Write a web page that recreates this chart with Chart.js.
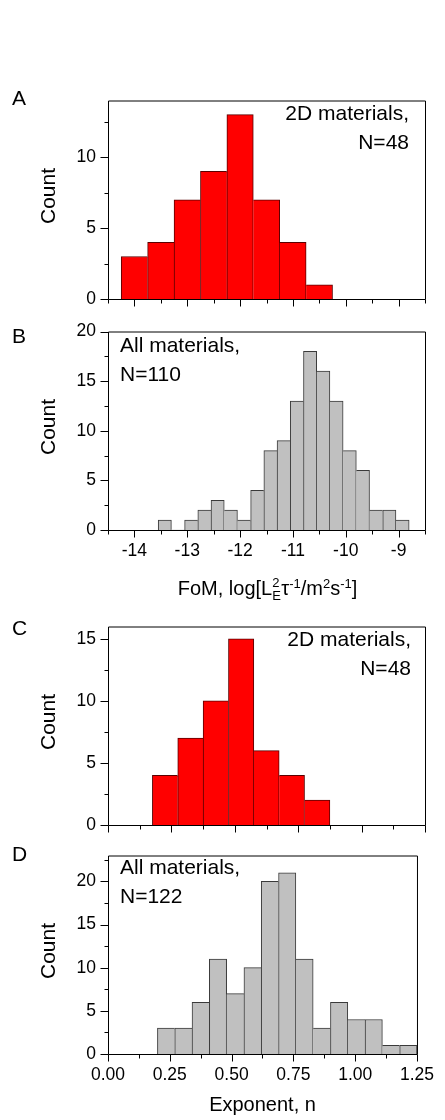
<!DOCTYPE html>
<html>
<head>
<meta charset="utf-8">
<script src="https://cdn.jsdelivr.net/npm/chart.js@4.4.1/dist/chart.umd.min.js"></script>
<style>
  body { margin: 0; background: #fff; }
  #page { position: relative; width: 445px; height: 1120px; overflow: hidden;
          font-family: Arial, "Liberation Sans", Helvetica, sans-serif; color: #000; }
  canvas { position: absolute; left: 0; }
  .t { position: absolute; line-height: 1; white-space: nowrap; font-size: 21px; }
  .ann { position: absolute; line-height: 29px; white-space: nowrap; font-size: 21px; }
  .cnt { position: absolute; left: 47px; line-height: 1; font-size: 21px; white-space: nowrap;
         transform: translate(-50%, -50%) rotate(-90deg); }
  .ttl { position: absolute; line-height: 1; font-size: 20px; white-space: nowrap; transform: translateX(-50%); }
  .up { position: relative; top: -7px; font-size: 13px; }
  .ls { position: relative; display: inline-block; width: 9px; height: 0; }
  .ls .hi { position: absolute; left: 0; bottom: 6px; font-size: 13px; }
  .ls .lo { position: absolute; left: 0; top: -6px; font-size: 13px; }
</style>
</head>
<body>
<div id="page">
  <canvas id="cA" width="445" height="245" style="top:78px"></canvas>
  <canvas id="cB" width="445" height="261" style="top:309px"></canvas>
  <canvas id="cC" width="445" height="245" style="top:604px"></canvas>
  <canvas id="cD" width="445" height="261" style="top:833px"></canvas>

  <div class="t" style="left:12px; top:87.2px">A</div>
  <div class="t" style="left:12px; top:325.2px">B</div>
  <div class="t" style="left:12px; top:617.2px">C</div>
  <div class="t" style="left:12px; top:843.2px">D</div>

  <div class="ann" style="right:36px; top:98.2px; text-align:right">2D materials,<br>N=48</div>
  <div class="ann" style="left:120px; top:330.2px">All materials,<br>N=110</div>
  <div class="ann" style="right:34px; top:624.2px; text-align:right">2D materials,<br>N=48</div>
  <div class="ann" style="left:120px; top:852.2px">All materials,<br>N=122</div>

  <div class="cnt" style="top:195.5px">Count</div>
  <div class="cnt" style="top:426.5px">Count</div>
  <div class="cnt" style="top:721.5px">Count</div>
  <div class="cnt" style="top:950.5px">Count</div>

  <div class="ttl" style="left:267.5px; top:578.1px">FoM, log[L<span class="ls"><span class="hi">2</span><span class="lo">E</span></span>τ<span class="up">-1</span>/m<span class="up">2</span>s<span class="up">-1</span>]</div>
  <div class="ttl" style="left:262.5px; top:1094.1px">Exponent, n</div>
</div>

<script>
// x axes
const fomMajor = [-14, -13, -12, -11, -10, -9];
const fomMinor = [-14.5, -13.5, -12.5, -11.5, -10.5, -9.5, -8.5];
const expMajor = [0, 0.25, 0.5, 0.75, 1.0, 1.25];
const expMinor = [0.125, 0.375, 0.625, 0.875, 1.125];

// A: FoM, 2D materials (bin centres, width 0.5)
const binsA   = [-14.0, -13.5, -13.0, -12.5, -12.0, -11.5, -11.0, -10.5];
const countsA = [3, 4, 7, 9, 13, 7, 4, 1];

// B: FoM, all materials (bin centres, width 0.25)
const binsB   = [-13.425, -13.175, -12.925, -12.675, -12.425, -12.175, -11.925, -11.675, -11.425, -11.175,
                 -10.925, -10.675, -10.425, -10.175, -9.925, -9.675, -9.425, -9.175, -8.925];
const countsB = [1, 0, 1, 2, 3, 2, 1, 4, 8, 9, 13, 18, 16, 13, 8, 6, 2, 2, 1];

// C: exponent, 2D materials (width 0.1)
const binsC   = [0.225, 0.325, 0.425, 0.525, 0.625, 0.725, 0.825];
const countsC = [4, 7, 10, 15, 6, 4, 2];

// D: exponent, all materials (width 0.07)
const binsD   = [0.235, 0.305, 0.375, 0.445, 0.515, 0.585, 0.655, 0.725, 0.795, 0.865, 0.935, 1.005, 1.075, 1.145, 1.215];
const countsD = [3, 3, 6, 11, 7, 10, 20, 21, 11, 3, 6, 4, 4, 1, 1];

// y axes
const yMajorA = [0, 5, 10],         yMinorA = [2.5, 7.5, 12.5];
const yMajorB = [0, 5, 10, 15, 20], yMinorB = [2.5, 7.5, 12.5, 17.5];
const yMajorC = [0, 5, 10, 15],     yMinorC = [2.5, 7.5, 12.5];
const yMajorD = [0, 5, 10, 15, 20], yMinorD = [2.5, 7.5, 12.5, 17.5, 22.5];

Chart.defaults.font.family = 'Arial, "Liberation Sans", Helvetica, sans-serif';
Chart.defaults.color = '#000';

// box frame + outward ticks on left and bottom
const framePlugin = {
    id: 'frame',
    afterDatasetsDraw(chart, args, o) {
        const ctx = chart.ctx, a = chart.chartArea;
        const x = chart.scales.x, y = chart.scales.y;
        const L = a.left + 0.5, R = a.right + 0.5, T = a.top + 0.5, B = a.bottom + 0.5;
        ctx.save();
        ctx.strokeStyle = '#000';
        ctx.lineWidth = 1;
        ctx.beginPath();
        ctx.rect(L, T, R - L, B - T);
        o.yMajor.forEach(v => { const p = Math.round(y.getPixelForValue(v)) + 0.5; ctx.moveTo(L - 8, p); ctx.lineTo(L, p); });
        o.yMinor.forEach(v => { const p = Math.round(y.getPixelForValue(v)) + 0.5; ctx.moveTo(L - 4, p); ctx.lineTo(L, p); });
        o.xMajor.forEach(v => { const p = Math.round(x.getPixelForValue(v)) + 0.5; ctx.moveTo(p, B); ctx.lineTo(p, B + 7); });
        o.xMinor.forEach(v => { const p = Math.round(x.getPixelForValue(v)) + 0.5; ctx.moveTo(p, B); ctx.lineTo(p, B + 4); });
        ctx.stroke();
        ctx.restore();
    }
};

const makeHist = (id, bins, counts, c) => {
    // one line between neighbours: the taller bar owns the shared edge
    const bw = (cx) => {
        const i = cx.dataIndex, v = counts[i];
        const prev = counts[i - 1], next = counts[i + 1];
        return {
            top: 1,
            left: (prev === undefined || prev <= v) ? 1 : 0,
            right: (next === undefined || next < v) ? 1 : 0,
            bottom: 0
        };
    };
    new Chart(document.getElementById(id), {
        type: 'bar',
        data: {
            datasets: [{
                data: bins.map((b, i) => ({ x: b, y: counts[i] })),
                backgroundColor: c.fill,
                borderColor: c.line,
                borderWidth: bw,
                barPercentage: 1,
                categoryPercentage: 1
            }]
        },
        options: {
            responsive: false,
            animation: false,
            events: [],
            layout: { padding: { top: 14, right: 20, left: 0, bottom: 0 } },
            plugins: {
                legend: { display: false },
                tooltip: { enabled: false },
                frame: { xMajor: c.xMajor, xMinor: c.xMinor, yMajor: c.yMajor, yMinor: c.yMinor }
            },
            scales: {
                x: {
                    type: 'linear', offset: false,
                    min: c.xMin, max: c.xMax,
                    grid: { display: false, drawTicks: false },
                    border: { display: false },
                    ticks: { display: c.showX, padding: 11, font: { size: 17.5 }, callback: c.fmt },
                    afterBuildTicks: s => { s.ticks = c.xMajor.map(v => ({ value: v })); },
                    afterFit: s => { s.height = c.xh; }
                },
                y: {
                    min: 0, max: c.yMax,
                    grid: { display: false, drawTicks: false },
                    border: { display: false },
                    ticks: { padding: 12, font: { size: 17.5 } },
                    afterBuildTicks: s => { s.ticks = c.yMajor.map(v => ({ value: v })); },
                    afterFit: s => { s.width = 108; }
                }
            }
        },
        plugins: [framePlugin]
    });
};

const red = { fill: '#ff0000', line: '#5a0000' };
const grey = { fill: '#c0c0c0', line: '#3a3a3a' };
const fomAxis = { xMin: -14.5, xMax: -8.5, xMajor: fomMajor, xMinor: fomMinor, fmt: v => String(v) };
const expAxis = { xMin: 0, xMax: 1.25, xMajor: expMajor, xMinor: expMinor, fmt: v => Number(v).toFixed(2) };

makeHist('cA', binsA, countsA, { ...red, ...fomAxis, showX: false, xh: 24, yMax: 14, yMajor: yMajorA, yMinor: yMinorA });
makeHist('cB', binsB, countsB, { ...grey, ...fomAxis, showX: true, xh: 40, yMax: 20, yMajor: yMajorB, yMinor: yMinorB });
makeHist('cC', binsC, countsC, { ...red, ...expAxis, showX: false, xh: 24, yMax: 16, yMajor: yMajorC, yMinor: yMinorC });
makeHist('cD', binsD, countsD, { ...grey, ...expAxis, showX: true, xh: 40, yMax: 23, yMajor: yMajorD, yMinor: yMinorD });
</script>
</body>
</html>
